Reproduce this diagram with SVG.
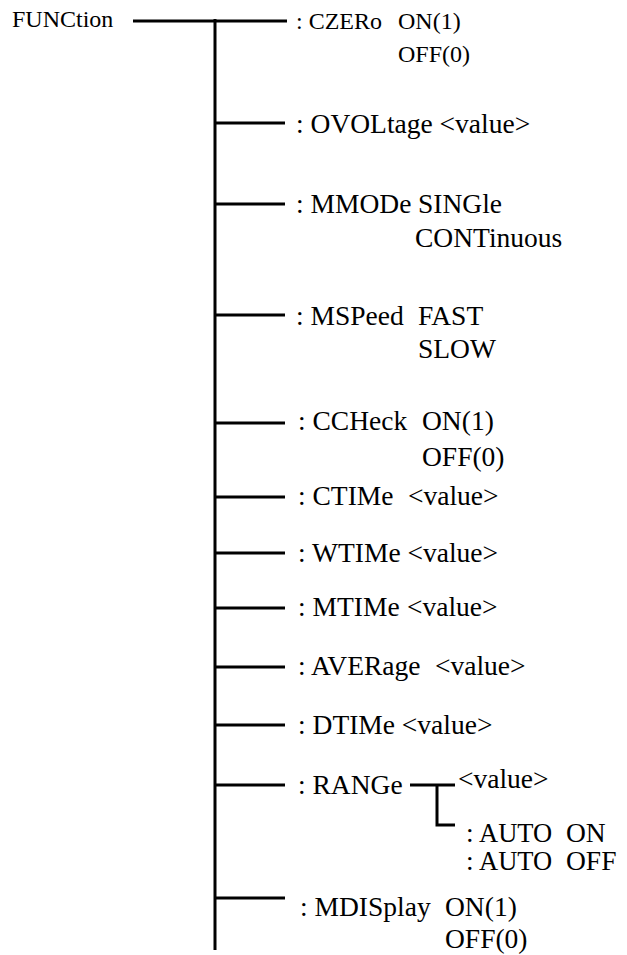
<svg xmlns="http://www.w3.org/2000/svg" width="627" height="955" viewBox="0 0 627 955">
<style>
.t{font-family:"Liberation Serif","Times New Roman",serif;fill:#000;font-size:27.5px}
.s{font-size:24px}
.a{font-size:26.5px}
.c line,.c path{stroke:#000;stroke-width:3;fill:none}
</style>
<rect width="627" height="955" fill="#fff"/>
<g id="connectors" class="c">
<line x1="133" y1="21" x2="287" y2="21"/>
<line x1="215" y1="19" x2="215" y2="950"/>
<line x1="215" y1="123" x2="285" y2="123"/>
<line x1="215" y1="204" x2="285" y2="204"/>
<line x1="215" y1="315" x2="285" y2="315"/>
<line x1="215" y1="423" x2="285" y2="423"/>
<line x1="215" y1="497" x2="285" y2="497"/>
<line x1="215" y1="553" x2="285" y2="553"/>
<line x1="215" y1="608" x2="285" y2="608"/>
<line x1="215" y1="667" x2="285" y2="667"/>
<line x1="215" y1="725" x2="285" y2="725"/>
<line x1="215" y1="785" x2="285" y2="785"/>
<line x1="215" y1="898" x2="285" y2="898"/>
<line x1="410" y1="785" x2="455" y2="785"/>
<path d="M437 785 V825 H455"/>
</g>
<g id="root"><text class="t s" x="12" y="27">FUNCtion</text></g>
<g id="czero"><text class="t s" x="296" y="29">: CZERo</text><text class="t s" x="398" y="29">ON(1)</text><text class="t s" x="398" y="62">OFF(0)</text></g>
<g id="ovoltage"><text class="t" x="296" y="133">: OVOLtage &lt;value&gt;</text></g>
<g id="mmode"><text class="t" x="296" y="213">: MMODe</text><text class="t" x="418" y="213">SINGle</text><text class="t" x="415" y="247">CONTinuous</text></g>
<g id="mspeed"><text class="t" x="296" y="325">: MSPeed</text><text class="t" x="418" y="325">FAST</text><text class="t" x="418" y="358">SLOW</text></g>
<g id="ccheck"><text class="t" x="298" y="430">: CCHeck</text><text class="t" x="422" y="430">ON(1)</text><text class="t" x="422" y="466">OFF(0)</text></g>
<g id="ctime"><text class="t" x="298" y="505">: CTIMe</text><text class="t" x="408" y="505">&lt;value&gt;</text></g>
<g id="wtime"><text class="t" x="298" y="562">: WTIMe &lt;value&gt;</text></g>
<g id="mtime"><text class="t" x="298" y="616">: MTIMe</text><text class="t" x="407" y="616">&lt;value&gt;</text></g>
<g id="average"><text class="t" x="298" y="675">: AVERage</text><text class="t" x="435" y="675">&lt;value&gt;</text></g>
<g id="dtime"><text class="t" x="298" y="734">: DTIMe &lt;value&gt;</text></g>
<g id="range"><text class="t" x="298" y="794">: RANGe</text><text class="t" x="458" y="788">&lt;value&gt;</text><text class="t" x="466" y="842">:</text><text class="t a" x="479" y="842">AUTO</text><text class="t" x="566" y="842">ON</text><text class="t" x="466" y="870">:</text><text class="t a" x="479" y="870">AUTO</text><text class="t" x="566" y="870">OFF</text></g>
<g id="mdisplay"><text class="t" x="300" y="916">: MDISplay</text><text class="t" x="445" y="916">ON(1)</text><text class="t" x="445" y="948">OFF(0)</text></g>
</svg>
